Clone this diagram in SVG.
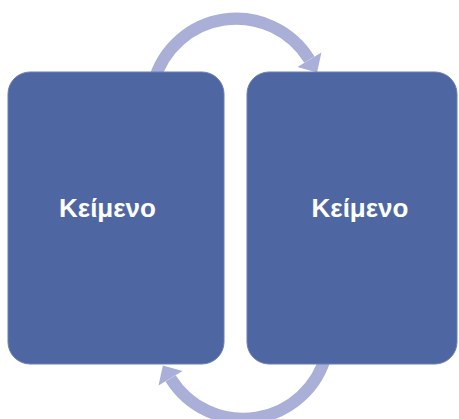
<svg xmlns="http://www.w3.org/2000/svg" width="459" height="419" viewBox="0 0 459 419">
<style>
.arc{fill:none;stroke:#A9AFD7;stroke-width:12}
.head{fill:#A9AFD7}
.box{fill:#4E67A3;stroke:#6A7FB5;stroke-width:1}
.lbl{font-family:"Liberation Sans",Arial,sans-serif;font-weight:bold;font-size:26px;fill:#FFFFFF;text-anchor:middle}
</style>
<rect width="459" height="419" fill="#FFFFFF"/>
<g id="connectors">
<path class="arc" d="M 153.8 82 A 85.5 85.5 0 0 1 309.4 59.7"/>
<polygon class="head" points="321.4,52.5 297.4,66.9 317.1,72.6"/>
<path class="arc" d="M 326.2 354 A 85.5 85.5 0 0 1 170.6 378.3"/>
<polygon class="head" points="182.6,371.1 158.5,385.5 162.9,365.4"/>
</g>
<g id="node1">
<rect class="box" x="8" y="72" width="216" height="292" rx="22"/>
<text class="lbl" x="107.5" y="217">Κείμενο</text>
</g>
<g id="node2">
<rect class="box" x="247" y="72" width="210" height="292" rx="22"/>
<text class="lbl" x="360" y="217">Κείμενο</text>
</g>
</svg>
